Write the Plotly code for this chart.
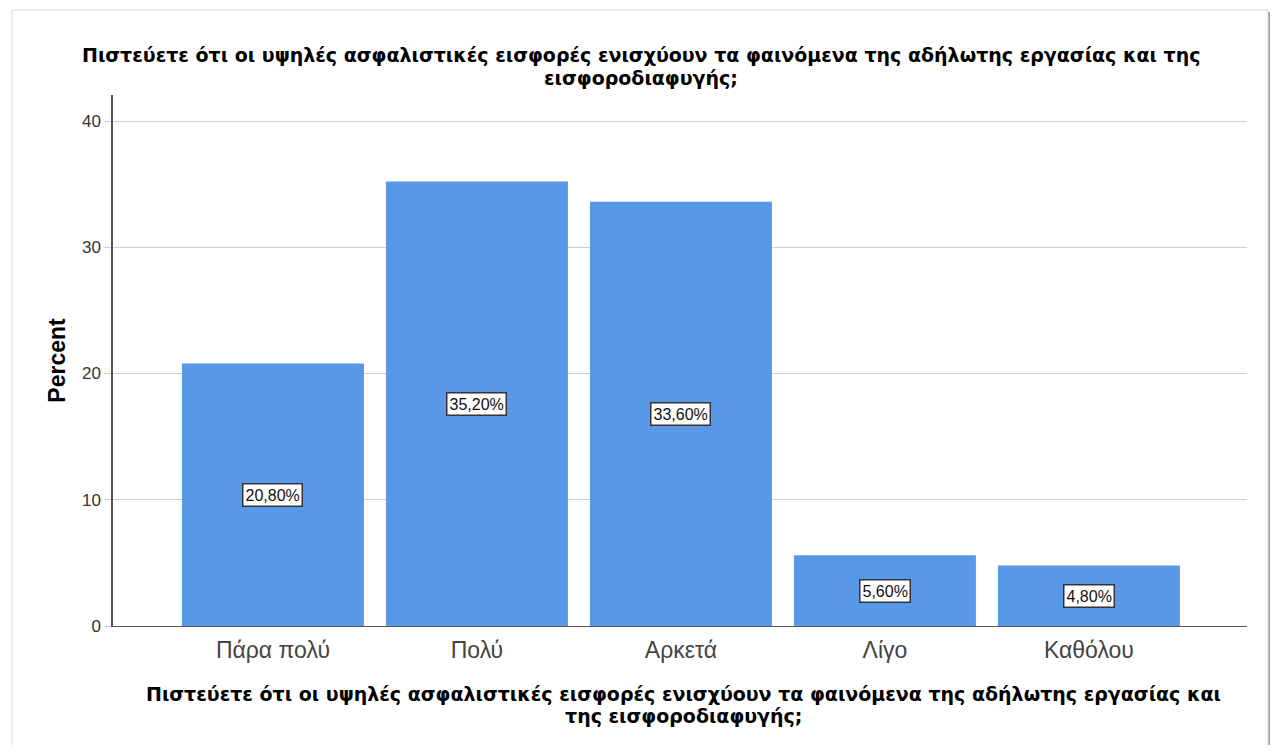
import plotly.graph_objects as go

categories = ["Πάρα πολύ", "Πολύ", "Αρκετά", "Λίγο", "Καθόλου"]
percent = [20.8, 35.2, 33.6, 5.6, 4.8]
labels = ["20,80%", "35,20%", "33,60%", "5,60%", "4,80%"]
title_lines = [
    "Πιστεύετε ότι οι υψηλές ασφαλιστικές εισφορές ενισχύουν τα φαινόμενα της αδήλωτης εργασίας και της",
    "εισφοροδιαφυγής;",
]
xtitle_lines = [
    "Πιστεύετε ότι οι υψηλές ασφαλιστικές εισφορές ενισχύουν τα φαινόμενα της αδήλωτης εργασίας και",
    "της εισφοροδιαφυγής;",
]

# page body has an 8px margin
O = 8
W, H = 1278 - 2 * O, 753 - 2 * O
L = 113 - O
T = 95 - O
R = W - (1247 - O)
B = H - (626 - O)
PW, PH = W - L - R, H - T - B


def px(x):
    return (x - O - L) / PW


def py(y):
    return (H - B - (y - O)) / PH


FONT = "Liberation Sans, Arial, sans-serif"
BOLD = "DejaVu Sans, Verdana, sans-serif"

fig = go.Figure()
fig.add_trace(go.Bar(
    x=categories, y=percent,
    marker=dict(color="#5898e6", line=dict(width=0)),
    hoverinfo="skip",
))

for c, v, t in zip(categories, percent, labels):
    fig.add_annotation(
        x=c, y=v / 2, text=t, showarrow=False,
        font=dict(family=FONT, size=16, color="#111"),
        bgcolor="white", bordercolor="#333", borderwidth=1.5, borderpad=2,
    )

for line, yy in zip(title_lines, [55, 78]):
    fig.add_annotation(
        x=px(641), xref="paper", y=py(yy), yref="paper", yanchor="middle",
        text="<b>" + line + "</b>", showarrow=False,
        font=dict(family=BOLD, size=19, color="#000"),
    )
for line, yy in zip(xtitle_lines, [694, 716]):
    fig.add_annotation(
        x=px(683), xref="paper", y=py(yy), yref="paper", yanchor="middle",
        text="<b>" + line + "</b>", showarrow=False,
        font=dict(family=BOLD, size=19, color="#000"),
    )

# frame
fig.add_shape(type="rect", xref="paper", yref="paper",
              x0=px(12), x1=px(1268), y0=py(770), y1=py(10),
              line=dict(color="#d8d8d8", width=1), layer="below")
fig.add_shape(type="line", xref="paper", yref="paper",
              x0=px(1270), x1=px(1270), y0=py(770), y1=py(12),
              line=dict(color="#9a9a9a", width=3))

fig.update_layout(
    width=W, height=H,
    margin=dict(l=L, r=R, t=T, b=B),
    paper_bgcolor="white", plot_bgcolor="white",
    bargap=0.108, showlegend=False,
    font=dict(family=FONT),
)
fig.update_xaxes(
    range=[-0.784, 4.775], showline=True, linecolor="#555", linewidth=1,
    showgrid=False, ticks="", tickfont=dict(size=23, color="#444"),
    ticklabelstandoff=3, fixedrange=True,
)
fig.update_yaxes(
    range=[0, 42.06], showline=True, linecolor="#555", linewidth=1.5,
    showgrid=True, gridcolor="#cfcfcf", gridwidth=1,
    tickvals=[0, 10, 20, 30, 40], ticks="outside", ticklen=7, tickcolor="#cfcfcf",
    tickfont=dict(size=17, color="#333"), zeroline=False,
    title=dict(text="<b>Percent</b>", font=dict(family=FONT, size=23, color="#000"), standoff=10),
)

fig.write_html("out.html")
